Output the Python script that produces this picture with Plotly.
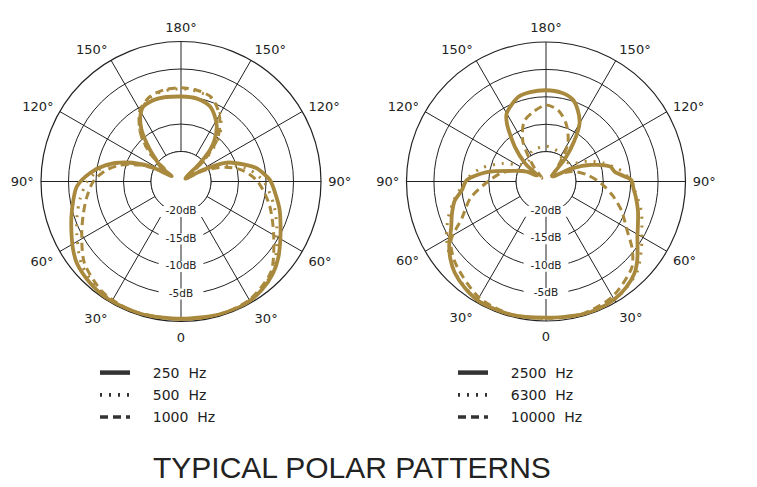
import plotly.graph_objects as go

# ---------------- data (dB vs angle; theta measured from front, counter-clockwise) -------------
theta_250 = [0, 16, 28, 37, 45, 52, 59.5, 67, 74, 83, 91, 100, 104, 112.6, 118, 124, 134, 137.5,
             141, 147, 153, 159, 169, 180, 196.3, 206.7, 212, 217.3, 224.4, 229, 234.5, 240, 244,
             250.7, 257.4, 264.8, 272.7, 279.7, 288, 296.7, 302, 308, 318, 328, 343, 360]
r_250 = [-0.5, -0.3, -0.3, -0.9, -1.8, -3.0, -4.5, -5.8, -6.8, -8.2, -9.3, -11.5, -13.1, -16.5,
         -21.0, -24.5, -20.8, -17.6, -15.8, -13.5, -12.0, -10.8, -10.1, -10.0, -9.8, -10.2, -11.5,
         -13.6, -17.4, -19.5, -20.9, -23.5, -19.2, -15.0, -11.6, -8.8, -6.5, -5.6, -4.5, -3.2, -2.3,
         -1.4, -0.7, -0.3, -0.3, -0.5]

theta_500 = [0, 15, 30, 45, 60, 75, 90, 100, 108, 116, 124, 132, 140, 150, 160, 170, 180, 190, 200,
             210, 220, 228, 236, 242, 248, 255, 262, 270, 280, 288, 297, 310, 325, 340, 360]
r_500 = [-0.4, -0.3, -0.5, -2.0, -5.3, -7.9, -10.4, -12.9, -16.0, -20.5, -24.0, -19.5, -14.5, -11.2,
         -9.3, -8.8, -8.6, -8.7, -9.2, -10.8, -14.0, -18.0, -22.0, -20.5, -16.8, -13.0, -10.4, -8.4,
         -6.8, -5.6, -4.2, -1.9, -0.6, -0.3, -0.4]

theta_1000 = [0, 15, 30, 45, 60, 75, 90, 100, 108, 116, 124, 132, 140, 150, 160, 170, 180, 190, 200,
              210, 220, 228, 236, 242, 248, 255, 262, 270, 280, 288, 297, 310, 325, 340, 360]
r_1000 = [-0.4, -0.3, -0.6, -2.3, -6.0, -8.8, -11.5, -14.0, -17.0, -21.0, -24.5, -20.0, -15.0, -11.5,
          -9.2, -8.6, -8.4, -8.5, -9.0, -10.5, -14.0, -18.0, -22.5, -21.0, -17.5, -14.0, -11.5, -9.5,
          -8.0, -6.8, -5.2, -2.5, -0.8, -0.3, -0.4]

theta_2500 = [0, 15, 22, 30, 37, 44, 49, 54, 59, 64, 72, 80, 85, 91, 98, 103, 110, 117, 130, 140,
              145, 150, 156, 162, 170, 180, 190, 198, 210, 214, 222, 229, 236, 243, 251, 261, 269,
              276, 282, 289, 296, 303, 309, 315, 323, 331, 345, 360]
r_2500 = [-0.6, -0.3, -0.3, -0.6, -1.2, -2.2, -3.4, -4.8, -6.0, -6.8, -7.8, -8.8, -9.4, -9.9,
          -12.8, -13.4, -16.6, -20.2, -24.0, -20.0, -16.5, -13.2, -11.2, -9.7, -9.0, -8.8, -8.9,
          -9.2, -11.1, -12.7, -17.0, -20.4, -23.5, -21.5, -19.5, -14.5, -11.0, -10.0, -8.4, -7.3,
          -6.2, -4.4, -3.0, -1.9, -1.0, -0.4, -0.3, -0.6]

theta_6300 = [0, 15, 30, 45, 55, 66, 73, 85, 96, 100.5, 108, 116, 125, 140, 157, 180, 206, 219, 235,
              248, 258, 266, 274, 280, 290, 300, 315, 330, 345, 360]
r_6300 = [-0.5, -0.3, -0.5, -2.0, -4.2, -6.3, -7.3, -9.3, -11.0, -12.3, -14.5, -17.0, -19.7, -20.5,
          -19.6, -19.0, -19.4, -20.5, -20.0, -16.7, -13.5, -11.5, -10.0, -8.6, -6.5, -4.5, -2.0,
          -0.5, -0.3, -0.5]

theta_10000 = [0, 15, 30, 45, 52, 59, 69, 78, 85, 90, 100, 111, 122, 130, 140, 150, 160, 170, 180,
               190, 200, 210, 220, 230, 240, 250, 260, 273, 282.5, 293.6, 302, 312, 330, 345, 360]
r_10000 = [-0.5, -0.4, -1.2, -3.3, -5.5, -8.2, -10.7, -13.0, -14.7, -15.8, -18.0, -20.3, -23.0,
           -24.5, -22.5, -17.5, -14.5, -12.3, -11.5, -12.5, -13.8, -17.0, -22.0, -24.5, -22.0,
           -19.5, -17.0, -14.1, -11.3, -8.7, -5.0, -3.2, -1.0, -0.4, -0.5]

angle_ticks = [0, 30, 60, 90, 120, 150, 180, 210, 240, 270, 300, 330]
angle_labels = ["0", "30°", "60°", "90°", "120°", "150°", "180°", "150°", "120°", "90°", "60°", "30°"]
db_ticks = [-20, -15, -10, -5]
db_labels = ["-20dB", "-15dB", "-10dB", "-5dB"]
inner_theta = list(range(0, 361, 5))

GOLD = "#a8893e"
INK = "#222222"
LABEL_FONT = "DejaVu Sans"

fig = go.Figure()


def add_polar(subplot, series, legend_name):
    # white inner disk (covers the grid inside the -20 dB ring)
    fig.add_trace(go.Scatterpolar(r=[-20] * len(inner_theta), theta=inner_theta, mode="lines",
                                  fill="toself", fillcolor="white",
                                  line=dict(color=INK, width=1), hoverinfo="skip",
                                  showlegend=False, subplot=subplot))
    # dB labels sitting on the 0° spoke
    fig.add_trace(go.Scatterpolar(r=db_ticks, theta=[0] * len(db_ticks), mode="markers+text",
                                  text=db_labels, textposition="middle center",
                                  textfont=dict(family=LABEL_FONT, size=10.5, color=INK),
                                  marker=dict(symbol="line-ew-open", size=32, color="white",
                                              line=dict(color="white", width=11)),
                                  hoverinfo="skip", showlegend=False, subplot=subplot))
    for name, th, rr, dash, width in series:
        fig.add_trace(go.Scatterpolar(r=rr, theta=th, mode="lines", name=name,
                                      line=dict(color=GOLD, width=width, dash=dash,
                                                shape="spline", smoothing=0.8),
                                      hoverinfo="skip", showlegend=False, subplot=subplot))
    for i, (name, th, rr, dash, width) in enumerate(series):
        fig.add_trace(go.Scatterpolar(r=[None], theta=[None], mode="lines", name=name,
                                      legendgroup=f"{legend_name}-{i}",
                                      line=dict(color="#333333", width=width + 0.7, dash=dash),
                                      showlegend=True, legend=legend_name, subplot=subplot))


NB = "\u00a0"
PAD = NB * 4
add_polar("polar", [
    (f"{PAD}250{NB}{NB}Hz", theta_250, r_250, "solid", 3.8),
    (f"{PAD}500{NB}{NB}Hz", theta_500, r_500, "2px,7px", 3),
    (f"{PAD}1000{NB}{NB}Hz", theta_1000, r_1000, "8px,5px", 3),
], "legend")
add_polar("polar2", [
    (f"{PAD}2500{NB}{NB}Hz", theta_2500, r_2500, "solid", 3.8),
    (f"{PAD}6300{NB}{NB}Hz", theta_6300, r_6300, "2px,7px", 3),
    (f"{PAD}10000{NB}{NB}Hz", theta_10000, r_10000, "8px,5px", 3),
], "legend2")

W, H = 757, 487


def polar_layout(cx, cy, rad):
    return dict(
        domain=dict(x=[(cx - rad) / W, (cx + rad) / W], y=[1 - (cy + rad) / H, 1 - (cy - rad) / H]),
        bgcolor="white",
        radialaxis=dict(range=[-25.45, 0], tickvals=[-20, -15, -10, -5, 0], showticklabels=False,
                        ticks="", showline=False, gridcolor=INK, gridwidth=1, layer="below traces"),
        angularaxis=dict(rotation=-90, direction="counterclockwise", tickmode="array",
                         tickvals=angle_ticks, ticktext=angle_labels, ticks="outside", ticklen=4,
                         tickcolor="rgba(0,0,0,0)",
                         tickfont=dict(family=LABEL_FONT, size=13, color=INK),
                         showline=True, linecolor=INK, linewidth=1.2,
                         gridcolor=INK, gridwidth=1, layer="below traces"),
    )


legend_common = dict(font=dict(family=LABEL_FONT, size=14, color=INK), bgcolor="rgba(0,0,0,0)",
                     xanchor="left", yanchor="top", tracegroupgap=1, itemwidth=30)

fig.update_layout(
    width=W, height=H, margin=dict(l=0, r=0, t=0, b=0),
    paper_bgcolor="white", plot_bgcolor="white",
    polar=polar_layout(181, 181.5, 140),
    polar2=polar_layout(546, 181.5, 139.5),
    legend=dict(x=95 / W, y=1 - 357 / H, **legend_common),
    legend2=dict(x=453 / W, y=1 - 357 / H, **legend_common),
    annotations=[dict(text="TYPICAL POLAR PATTERNS", x=352 / W, y=1 - 467 / H, xref="paper",
                      yref="paper", xanchor="center", yanchor="middle", showarrow=False,
                      font=dict(family="Liberation Sans", size=30, color=INK))],
)

fig.write_html("out.html", config={"displayModeBar": False},
               post_script="document.body.style.margin='0';")
